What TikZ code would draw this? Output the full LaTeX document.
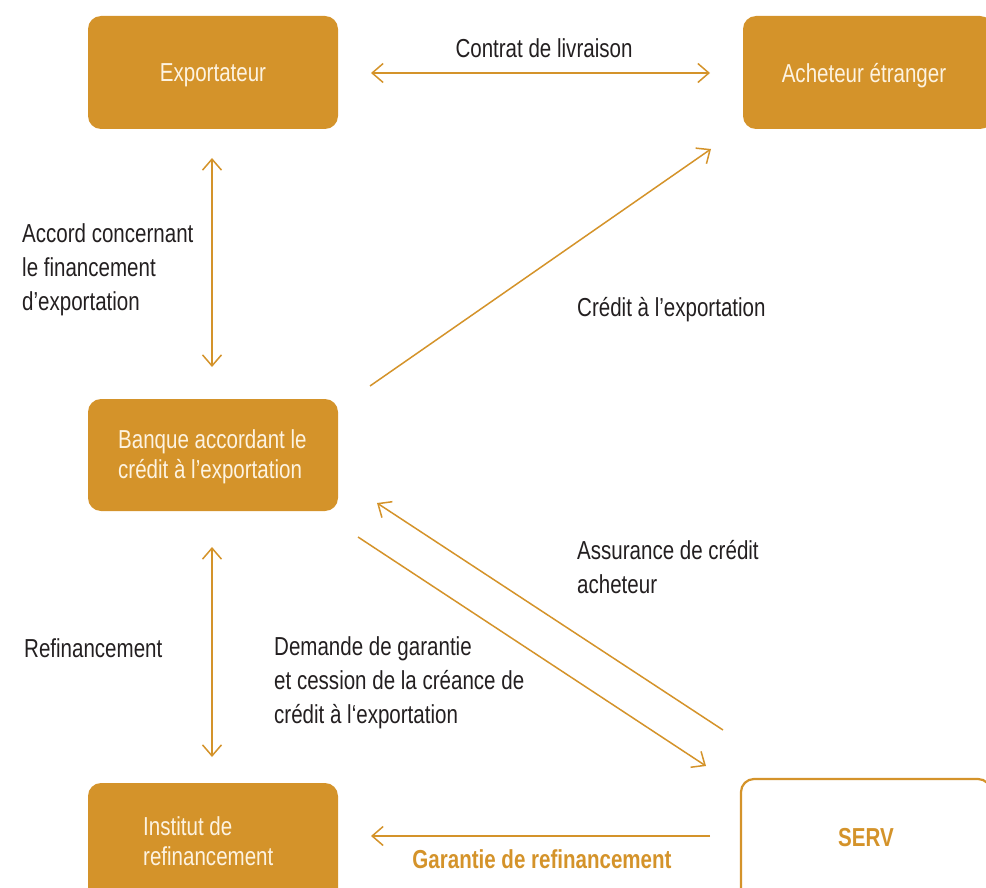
\documentclass[tikz,border=0pt]{standalone}
\usepackage{fontspec}
\setmainfont{Liberation Sans}[FakeStretch=0.79]
\usetikzlibrary{arrows.meta}
\definecolor{gold}{HTML}{D4932A}
\definecolor{ink}{HTML}{231F20}
\definecolor{cream}{HTML}{FDF3E1}
\tikzset{
  boxfill/.style={fill=gold, draw=none, rounded corners=13pt, inner sep=0pt},
  boxline/.style={fill=white, draw=gold, line width=2.2pt, rounded corners=13pt, inner sep=0pt},
  boxtext/.style={text=cream, font=\fontsize{26}{30}\selectfont, align=left, inner sep=0pt},
  lbl/.style={text=ink, font=\fontsize{26}{34}\selectfont, align=left, inner sep=0pt},
  conn/.style={draw=gold, line width=1.5pt},
  tip/.style={-{Straight Barb[length=11pt,width=19pt,line width=1.5pt]}},
  tips/.style={{Straight Barb[length=11pt,width=19pt,line width=1.5pt]}-{Straight Barb[length=11pt,width=19pt,line width=1.5pt]}}
}
\begin{document}
\begin{tikzpicture}[x=1pt,y=-1pt]
\useasboundingbox (0,0) rectangle (986,888);
\clip (0,0) rectangle (986,888);
% boxes
\node[boxfill, minimum width=250pt, minimum height=113pt] (exp) at (213,72.5) {};
\node[boxfill, minimum width=250pt, minimum height=113pt] (ach) at (868,72.5) {};
\node[boxfill, minimum width=250pt, minimum height=112pt] (ban) at (213,455) {};
\node[boxfill, minimum width=250pt, minimum height=118pt] (ins) at (213,842) {};
\node[boxline, minimum width=250pt, minimum height=122pt] (serv) at (866,840) {};
% box texts
\node[boxtext] (expt) at (213,75) {Exportateur};
\node[boxtext] (acht) at (864,76) {Acheteur étranger};
\node[boxtext, anchor=west] (bant) at (118,457) {Banque accordant le\\crédit à l’exportation};
\node[boxtext, anchor=west] (inst) at (143,841) {Institut de\\refinancement};
\node[text=gold, font=\fontsize{26}{30}\selectfont\bfseries, inner sep=0pt] (servt) at (866,838) {SERV};
% connector end points
\coordinate (c1a) at (371,73); \coordinate (c1b) at (710,73);
\coordinate (c2a) at (212,158); \coordinate (c2b) at (212,367);
\coordinate (c3a) at (370,386); \coordinate (c3b) at (711,149);
\coordinate (c4a) at (212,547); \coordinate (c4b) at (212,757);
\coordinate (c5a) at (723,730); \coordinate (c5b) at (377,503);
\coordinate (c6a) at (358,537); \coordinate (c6b) at (706,766);
\coordinate (c7a) at (710,836); \coordinate (c7b) at (371,836);
% connectors
\draw[conn, tips] (c1a) -- (c1b);
\draw[conn, tips] (c2a) -- (c2b);
\draw[conn, tip] (c3a) -- (c3b);
\draw[conn, tips] (c4a) -- (c4b);
\draw[conn, tip] (c5a) -- (c5b);
\draw[conn, tip] (c6a) -- (c6b);
\draw[conn, tip] (c7a) -- (c7b);
% labels
\node[lbl] (l1) at (544,48) {Contrat de livraison};
\node[lbl, anchor=west] (l2) at (22,270) {Accord concernant\\le financement\\d’exportation};
\node[lbl, anchor=west] (l3) at (577,310) {Crédit à l’exportation};
\node[lbl, anchor=west] (l4) at (24,648) {Refinancement};
\node[lbl, anchor=west] (l5) at (577,567) {Assurance de crédit\\acheteur};
\node[lbl, anchor=west] (l6) at (274,683) {Demande de garantie\\et cession de la créance de\\crédit à l‘exportation};
\node[text=gold, font=\fontsize{26}{30}\selectfont\bfseries, inner sep=0pt] (l7) at (542,859) {Garantie de refinancement};
\end{tikzpicture}
\end{document}
